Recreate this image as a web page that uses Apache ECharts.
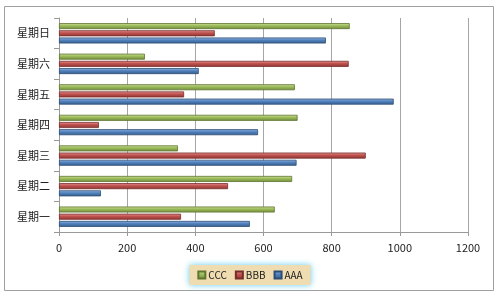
<!DOCTYPE html>
<html><head><meta charset="utf-8">
<script src="https://cdn.jsdelivr.net/npm/echarts@6/dist/echarts.min.js"></script>
<style>html,body{margin:0;padding:0;background:#fff}#c{width:500px;height:297px}</style>
</head><body><div id="c"></div>
<script>
var categories = ['星期一','星期二','星期三','星期四','星期五','星期六','星期日'];
var AAA = [560, 123, 697, 584, 982, 410, 783];
var BBB = [358, 496, 900, 117, 367, 850, 457];
var CCC = [633, 684, 349, 700, 692, 252, 853];
var xTicks = [0, 200, 400, 600, 800, 1000, 1200];

function grad(light, mid, dark){
  return new echarts.graphic.LinearGradient(0,0,0,1,[
    {offset:0,color:light},{offset:0.45,color:mid},{offset:1,color:dark}]);
}
function mk(name, data, light, mid, dark, border){
  return {name:name, type:'bar', data:data, barWidth:6, barGap:'20%',
    itemStyle:{color:grad(light,mid,dark), borderColor:border, borderWidth:0.8},
    emphasis:{disabled:true}};
}
var chart = echarts.init(document.getElementById('c'));
chart.setOption({
  animation:false,
  textStyle:{fontFamily:'"Noto Sans CJK SC", "Liberation Sans", sans-serif'},
  graphic:[{type:'rect', shape:{x:4.5,y:6.5,width:489,height:284}, style:{fill:'none', stroke:'#a0a0a0', lineWidth:1}, silent:true, z:-1}],
  grid:{left:59, right:32, top:18, bottom:65},
  xAxis:{type:'value', min:xTicks[0], max:xTicks[xTicks.length-1], interval:xTicks[1]-xTicks[0],
    axisLine:{show:true, lineStyle:{color:'#999'}},
    axisTick:{show:true, length:4, lineStyle:{color:'#999'}},
    axisLabel:{color:'#222', fontSize:11, margin:10, formatter:function(v){return String(v);}},
    splitLine:{show:true, lineStyle:{color:'#a6a6a6', width:1}}},
  yAxis:{type:'category', data:categories,
    axisLine:{show:true, lineStyle:{color:'#999'}},
    axisTick:{show:true, length:5, lineStyle:{color:'#999'}},
    axisLabel:{color:'#222', fontSize:11, margin:9}},
  legend:{data:['CCC','BBB','AAA'], bottom:12, left:'center', itemWidth:7, itemHeight:7, itemGap:8,
    icon:'rect', padding:[5,8], backgroundColor:'#efdcb0',
    shadowColor:'rgba(80,200,240,0.9)', shadowBlur:6,
    textStyle:{fontSize:10, color:'#222', padding:[0,0,0,-2]}},
  series:[
    mk('CCC', CCC, '#cde09a', '#9bbb59', '#71893f', '#5f7530'),
    mk('BBB', BBB, '#e89a98', '#c0504d', '#8c3836', '#772c2a'),
    mk('AAA', AAA, '#9ab8e4', '#4f81bd', '#385d8a', '#2c4d75')
  ]
});
</script></body></html>
